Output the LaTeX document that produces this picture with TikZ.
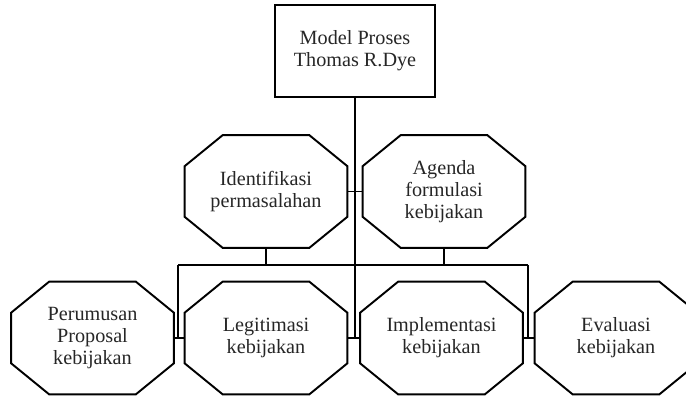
\documentclass[tikz,border=0pt]{standalone}
\usepackage{fontspec}
\setmainfont{Liberation Serif}

\begin{document}
\begin{tikzpicture}[x=0.02cm, y=-0.02cm,
    every node/.style = {font=\fontsize{11.5}{12.5}\selectfont, align=center, text=black!85},
    kotak/.style = {draw, line width=1.1pt, minimum width=3.2cm, minimum height=1.84cm, inner sep=0pt},
    okta/.style = {minimum width=3.24cm, minimum height=2.24cm, inner sep=0pt},
    garis/.style = {line width=1.1pt, line join=miter}]
    \useasboundingbox (0,0) rectangle (686,396);

    % Top box
    \node[kotak] (model) at (355,51) {Model Proses\\Thomas R.Dye};

    % First row
    \node[okta] (ident) at (266,191.5) {Identifikasi\\permasalahan};
    \node[okta] (agenda) at (444,191.5) {Agenda\\formulasi\\kebijakan};

    % Second row
    \node[okta] (rumus) at (92.5,338) {Perumusan\\Proposal\\kebijakan};
    \node[okta] (legit) at (266,338) {Legitimasi\\kebijakan};
    \node[okta] (impl) at (441.5,338) {Implementasi\\kebijakan};
    \node[okta] (eval) at (616,338) {Evaluasi\\kebijakan};

    % Octagon outlines
    \foreach \n in {ident,agenda,rumus,legit,impl,eval}
        \draw[garis] ([xshift=0.76cm]\n.north west) -- ([xshift=-0.76cm]\n.north east)
            -- ([yshift=-0.62cm]\n.north east) -- ([yshift=0.62cm]\n.south east)
            -- ([xshift=-0.76cm]\n.south east) -- ([xshift=0.76cm]\n.south west)
            -- ([yshift=0.62cm]\n.south west) -- ([yshift=-0.62cm]\n.north west) -- cycle;

    % Bar between the rows
    \coordinate (barL) at (178,265);
    \coordinate (barR) at (528,265);

    % Connectors
    \draw[garis] (model.south) -- (model.south |- legit.east);
    \draw[garis] (ident.east) -- (agenda.west);
    \draw[garis] (barL) -- (barR);
    \draw[garis] (ident.south) -- (ident.south |- barL);
    \draw[garis] (agenda.south) -- (agenda.south |- barL);
    \draw[garis] (barL) -- (barL |- legit.west);
    \draw[garis] (barR) -- (barR |- impl.east);
    \draw[garis] (rumus.east) -- (legit.west);
    \draw[garis] (legit.east) -- (impl.west);
    \draw[garis] (impl.east) -- (eval.west);
\end{tikzpicture}
\end{document}
